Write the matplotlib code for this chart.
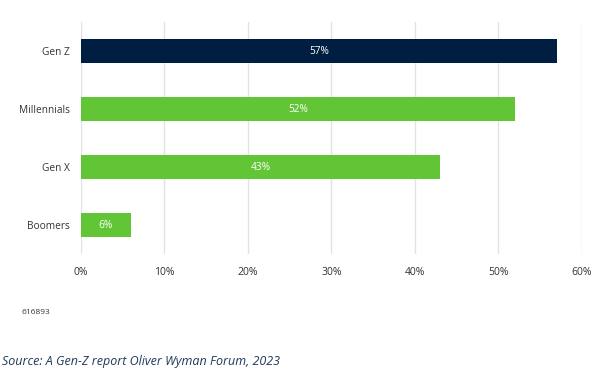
import matplotlib
matplotlib.use("Agg")
import matplotlib.pyplot as plt

categories = ["Gen Z", "Millennials", "Gen X", "Boomers"]
values = [57, 52, 43, 6]
bar_colors = ["#001e41", "#62c536", "#62c536", "#62c536"]
xticks = [0, 10, 20, 30, 40, 50, 60]
xtick_labels = ["0%", "10%", "20%", "30%", "40%", "50%", "60%"]

plt.rcParams['font.family'] = ['Open Sans', 'DejaVu Sans']

fig = plt.figure(figsize=(6, 3.77), dpi=100)
ax = fig.add_axes([80.7/600, 1-254/377, (582-80.7)/600, (254-22)/377])

y = list(range(len(categories)))
bars = ax.barh(y, values, height=0.4, color=bar_colors, zorder=3)
for b, v in zip(bars, values):
    ax.text(v/2, b.get_y()+b.get_height()/2, f"{v}%", ha="center", va="center",
            color="white", fontsize=7.3, zorder=4)

ax.set_ylim(3.5, -0.5)
ax.set_xlim(0, 60)
ax.set_yticks(y)
ax.set_yticklabels(categories, fontsize=7.3, color="#333333")
ax.set_xticks(xticks)
ax.set_xticklabels(xtick_labels, fontsize=7.5, color="#333333")
ax.grid(axis="x", color="#e3e3e3", linewidth=1, zorder=0)
for s in ax.spines.values():
    s.set_visible(False)
ax.tick_params(axis="y", length=0, pad=7.7)
ax.tick_params(axis="x", length=0, pad=9.5)

fig.text(21/600, 1-312/377, "616893", fontsize=6, color="#333333", va="center", ha="left")
fig.text(2/600, 1-361/377, "Source: A Gen-Z report Oliver Wyman Forum, 2023", fontsize=9,
         style="italic", color="#1e3a5c", va="center", ha="left")

fig.savefig("out.png", dpi=100)
